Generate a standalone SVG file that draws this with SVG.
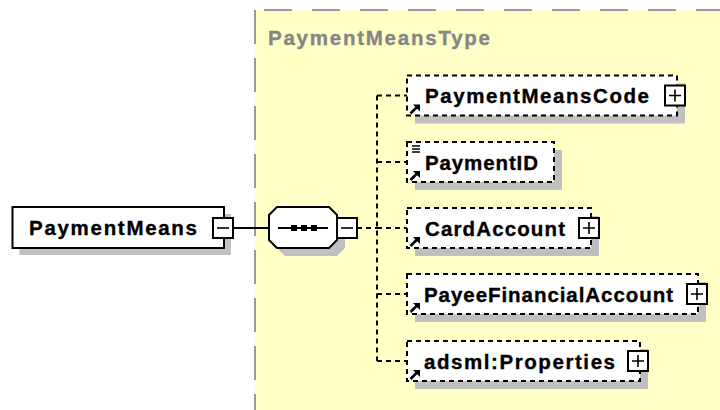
<svg xmlns="http://www.w3.org/2000/svg" width="720" height="410" viewBox="0 0 720 410">
  <style>
    .lbl { font-family: "Liberation Sans", Arial, sans-serif; font-weight: bold; font-size: 20.5px; fill: #000; stroke: #000; stroke-width: 0.35; }
    .title { font-family: "Liberation Sans", Arial, sans-serif; font-weight: bold; font-size: 20.5px; fill: #868686; stroke: #868686; stroke-width: 0.35; }
    .box { fill: #fff; stroke: #000; stroke-width: 2; }
    .dbox { fill: #fff; stroke: #000; stroke-width: 2; stroke-dasharray: 5 4; }
    .shadow { fill: #c0c0c0; }
    .conn { fill: none; stroke: #000; stroke-width: 2; }
    .dconn { fill: none; stroke: #000; stroke-width: 2; stroke-dasharray: 5 4; }
    .btn { fill: #fff; stroke: #000; stroke-width: 2; }
    .sign { stroke: #000; stroke-width: 1.6; fill: none; }
    .ref { fill: #000; }
    .refline { stroke: #000; stroke-width: 2.6; }
  </style>
  <defs>
    <!-- reference arrow drawn at the lower-left corner of each element -->
    <g id="refIcon">
      <polygon class="ref" points="3,-9.5 10,-9.5 10,-2.5"/>
      <line class="refline" x1="0.5" y1="-0.5" x2="7" y2="-7"/>
    </g>
    <g id="plusBtn">
      <rect class="btn" x="0" y="-10" width="20" height="20"/>
      <path class="sign" d="M4 0H16M10 -6V6"/>
    </g>
    <g id="minusBtn">
      <rect class="btn" x="0" y="-10" width="20" height="20"/>
      <path class="sign" d="M4 0H16"/>
    </g>
  </defs>

  <!-- complex type area -->
  <g id="PaymentMeansType">
    <rect x="255" y="10" width="465" height="400" fill="#ffffc6"/>
    <line x1="264" y1="10" x2="720" y2="10" stroke="#999" stroke-width="2" stroke-dasharray="28 20"/>
    <line x1="255" y1="10" x2="255" y2="410" stroke="#999" stroke-width="2" stroke-dasharray="34 14"/>
    <text class="title" x="268" y="45" textLength="222" lengthAdjust="spacing">PaymentMeansType</text>
  </g>

  <!-- connectors -->
  <g id="connectors">
    <line class="conn" x1="233" y1="228" x2="269" y2="228"/>
    <line class="dconn" x1="357" y1="228" x2="377" y2="228"/>
    <line class="dconn" x1="377" y1="95.5" x2="377" y2="361"/>
    <line class="dconn" x1="377" y1="95.5" x2="407" y2="95.5"/>
    <line class="dconn" x1="377" y1="162" x2="407" y2="162"/>
    <line class="dconn" x1="377" y1="228" x2="407" y2="228"/>
    <line class="dconn" x1="377" y1="294" x2="407" y2="294"/>
    <line class="dconn" x1="377" y1="361" x2="407" y2="361"/>
  </g>

  <!-- root element -->
  <g id="PaymentMeans">
    <rect class="shadow" x="19.5" y="214" width="211.5" height="41"/>
    <rect class="box" x="12.5" y="207" width="211.5" height="41"/>
    <text class="lbl" x="29" y="235" textLength="168" lengthAdjust="spacing">PaymentMeans</text>
    <use href="#minusBtn" x="213" y="228"/>
  </g>

  <!-- sequence compositor -->
  <g id="sequence">
    <polygon class="shadow" points="285,215 337,215 345,223 345,248 337,256 285,256 277,248 277,223"/>
    <polygon class="box" points="277,207 329,207 337,215 337,240 329,248 277,248 269,240 269,215"/>
    <line class="conn" x1="278" y1="228" x2="328" y2="228"/>
    <rect x="291" y="225" width="6" height="6" fill="#000"/>
    <rect x="301" y="225" width="6" height="6" fill="#000"/>
    <rect x="311" y="225" width="6" height="6" fill="#000"/>
    <use href="#minusBtn" x="337" y="228"/>
  </g>

  <g id="PaymentMeansCode">
    <rect class="shadow" x="415" y="83.5" width="270" height="40"/>
    <rect class="dbox" x="407" y="75.5" width="270" height="40"/>
    <text class="lbl" x="425" y="103" textLength="224" lengthAdjust="spacing">PaymentMeansCode</text>
    <use href="#refIcon" x="410" y="114"/>
    <use href="#plusBtn" x="665" y="95.5"/>
  </g>

  <g id="PaymentID">
    <rect class="shadow" x="415" y="150" width="147" height="40"/>
    <rect class="dbox" x="407" y="142" width="147" height="40"/>
    <path d="M412 146H420M412 149H420M412 152H420" stroke="#000" stroke-width="1.3"/>
    <text class="lbl" x="425" y="169.5" textLength="113" lengthAdjust="spacing">PaymentID</text>
    <use href="#refIcon" x="410" y="180.5"/>
  </g>

  <g id="CardAccount">
    <rect class="shadow" x="415" y="216" width="184" height="40"/>
    <rect class="dbox" x="407" y="208" width="184" height="40"/>
    <text class="lbl" x="425" y="235.5" textLength="140" lengthAdjust="spacing">CardAccount</text>
    <use href="#refIcon" x="410" y="246.5"/>
    <use href="#plusBtn" x="579" y="228"/>
  </g>

  <g id="PayeeFinancialAccount">
    <rect class="shadow" x="415" y="282" width="291" height="40"/>
    <rect class="dbox" x="407" y="274" width="291" height="40"/>
    <text class="lbl" x="424" y="301.5" textLength="249" lengthAdjust="spacing">PayeeFinancialAccount</text>
    <use href="#refIcon" x="410" y="312.5"/>
    <use href="#plusBtn" x="687" y="294"/>
  </g>

  <g id="adsmlProperties">
    <rect class="shadow" x="415" y="349" width="233" height="40"/>
    <rect class="dbox" x="407" y="341" width="233" height="40"/>
    <text class="lbl" x="424" y="368.5" textLength="191" lengthAdjust="spacing">adsml:Properties</text>
    <use href="#refIcon" x="410" y="379.5"/>
    <use href="#plusBtn" x="628" y="361"/>
  </g>
</svg>
